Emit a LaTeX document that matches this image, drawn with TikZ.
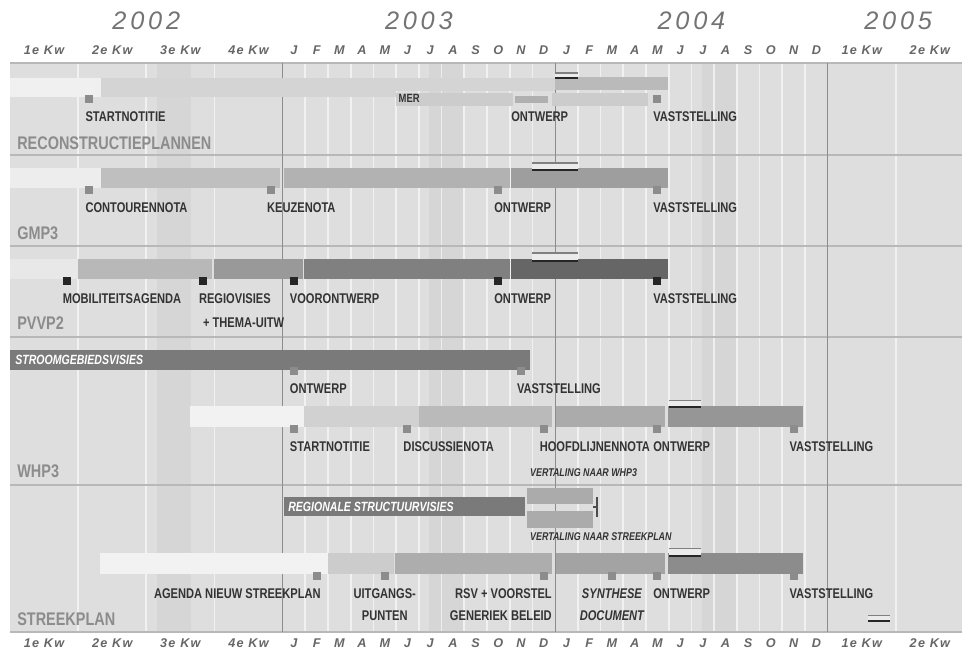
\documentclass[tikz,border=0pt]{standalone}
\usepackage{fontspec}
\setmainfont{Liberation Sans}
\newfontfamily\smal[FakeStretch=0.79]{Liberation Sans}
\newfontfamily\kopfont[LetterSpace=10]{Liberation Sans}
\newfontfamily\jaarfont[LetterSpace=15]{Liberation Sans}

\tikzset{
  balk/.style={fill=#1},
  mp/.style={fill=black!45, minimum size=0.2cm, inner sep=0pt},
  mpz/.style={fill=black!85, minimum size=0.2cm, inner sep=0pt},
  lbl/.style={font=\smal\bfseries\fontsize{10}{12}\selectfont, text=black!80, inner sep=0pt, anchor=base west},
  titel/.style={font=\smal\bfseries\fontsize{13}{15}\selectfont, text=black!45, inner sep=0pt, anchor=base west},
  vert/.style={font=\smal\bfseries\itshape\fontsize{8}{9}\selectfont, text=black!80, inner sep=0pt, anchor=base west},
  inbalk/.style={font=\smal\bfseries\itshape\fontsize{9.5}{11}\selectfont, text=white, inner sep=0pt, anchor=base west},
  kop/.style={font=\kopfont\bfseries\itshape\fontsize{9}{10}\selectfont, text=black!60, inner sep=0pt, anchor=base},
  jaar/.style={font=\jaarfont\itshape\fontsize{18}{20}\selectfont, text=black!55, inner sep=0pt, anchor=base},
}

% onderbreking: lichte lijn boven, donkere lijn onder
\newcommand\pauze[4]{%
  \fill[black!8] (#1,#3) rectangle (#2,#4);
  \draw[black!50, line width=0.03cm] (#1,#3) -- (#2,#3);
  \draw[black!85, line width=0.06cm] (#1,#4) -- (#2,#4);
}

\begin{document}
\begin{tikzpicture}[x=0.56785cm, y=-0.025cm]
\useasboundingbox (-0.4403,0) rectangle (42.133,656);

% raster
\fill[black!13] (0,63) rectangle (41.9,632);
\foreach \j in {0,12,24} \fill[black!16] (\j+6.45,63) rectangle (\j+7.95,632);
\foreach \m in {3,6,9,13,14,...,23,25,26,...,35,39}
  \draw[white, opacity=0.6, line width=0.04cm] (\m,63) -- (\m,632);
\foreach \y in {63,155,246,337,485,632}
  \draw[black!28, line width=0.05cm] (0,\y) -- (41.9,\y);
\foreach \m in {12,24,36}
  \draw[black!45, line width=0.025cm] (\m,63) -- (\m,632);

% koppen
\node[jaar] (j2002) at (6,30) {2002};
\node[jaar] (j2003) at (18,30) {2003};
\node[jaar] (j2004) at (30,30) {2004};
\node[jaar] (j2005) at (39.1,30) {2005};
\foreach \q [count=\i from 0] in {1e,2e,3e,4e} {
  \node[kop] (qa\i) at (1.5+3*\i,55) {\q\ Kw};
  \node[kop] (qb\i) at (1.5+3*\i,648) {\q\ Kw};
}
\foreach \q [count=\i from 0] in {1e,2e} {
  \node[kop] (qc\i) at (37.5+3*\i,55) {\q\ Kw};
  \node[kop] (qd\i) at (37.5+3*\i,648) {\q\ Kw};
}
\foreach \m [count=\i from 0] in {J,F,M,A,M,J,J,A,S,O,N,D} {
  \node[kop] (ma\i) at (12.5+\i,55) {\m};
  \node[kop] (mb\i) at (24.5+\i,55) {\m};
  \node[kop] (mc\i) at (12.5+\i,648) {\m};
  \node[kop] (md\i) at (24.5+\i,648) {\m};
}

% reconstructieplannen
\path[balk=black!6] (0,78) rectangle (4,97);
\path[balk=black!17] (4,78) rectangle (17,97);
\path[balk=black!17] (17,78) rectangle (24,91);
\path[balk=black!27] (24,77) rectangle (28.95,90);
\path[balk=black!20] (17,93) rectangle (22.15,106);
\path[balk=black!31] (22.25,96) rectangle (23.7,103);
\path[balk=black!20] (23.85,93) rectangle (28.1,106);
\node[vert, font=\smal\bfseries\fontsize{8.5}{9}\selectfont] (mer) at (17.1,103) {MER};
\pauze{24}{25}{73}{78}
\node[mp] (m1a) at (3.5,99) {};
\node[mp] (m1b) at (28.5,99) {};
\node[lbl] (l1a) at ([yshift=-0.575cm]m1a.west) {STARTNOTITIE};
\node[lbl] (l1o) at (22.06,122) {ONTWERP};
\node[lbl] (l1b) at ([yshift=-0.575cm]m1b.west) {VASTSTELLING};
\node[titel] (t1) at (0.31,150) {RECONSTRUCTIEPLANNEN};

% gmp3
\path[balk=black!7] (0,168) rectangle (4,188);
\path[balk=black!25] (4,168) rectangle (11.9,188);
\path[balk=black!30] (12.05,168) rectangle (22,188);
\path[balk=black!38] (22.05,168) rectangle (28.95,188);
\pauze{23}{25}{163}{170}
\node[mp] (m2a) at (3.5,190) {};
\node[mp] (m2b) at (11.5,190) {};
\node[mp] (m2c) at (21.5,190) {};
\node[mp] (m2d) at (28.5,190) {};
\node[lbl] (l2a) at ([yshift=-0.575cm]m2a.west) {CONTOURENNOTA};
\node[lbl] (l2b) at ([yshift=-0.575cm]m2b.west) {KEUZENOTA};
\node[lbl] (l2c) at ([yshift=-0.575cm]m2c.west) {ONTWERP};
\node[lbl] (l2d) at ([yshift=-0.575cm]m2d.west) {VASTSTELLING};
\node[titel] (t2) at (0.31,240) {GMP3};

% pvvp2
\path[balk=black!9] (0,259) rectangle (3,279);
\path[balk=black!28] (3,259) rectangle (8.9,279);
\path[balk=black!40] (9,259) rectangle (12.9,279);
\path[balk=black!50] (12.95,259) rectangle (22,279);
\path[balk=black!60] (22.05,259) rectangle (28.95,279);
\pauze{23}{25}{253}{261}
\node[mpz] (m3a) at (2.5,281) {};
\node[mpz] (m3b) at (8.5,281) {};
\node[mpz] (m3c) at (12.5,281) {};
\node[mpz] (m3d) at (21.5,281) {};
\node[mpz] (m3e) at (28.5,281) {};
\node[lbl] (l3a) at ([yshift=-0.575cm]m3a.west) {MOBILITEITSAGENDA};
\node[lbl] (l3b) at ([yshift=-0.575cm]m3b.west) {REGIOVISIES};
\node[lbl] (l3b2) at ([shift={(0.1cm,-0.6cm)}]l3b.base west) {+ THEMA-UITW};
\node[lbl] (l3c) at ([yshift=-0.575cm]m3c.west) {VOORONTWERP};
\node[lbl] (l3d) at ([yshift=-0.575cm]m3d.west) {ONTWERP};
\node[lbl] (l3e) at ([yshift=-0.575cm]m3e.west) {VASTSTELLING};
\node[titel] (t3) at (0.31,330) {PVVP2};

% whp3
\path[balk=black!52] (0,350) rectangle (22.9,370);
\node[inbalk] (sgv) at (0.22,365) {STROOMGEBIEDSVISIES};
\node[mp] (m4a) at (12.5,371) {};
\node[mp] (m4b) at (22.5,371) {};
\node[lbl] (l4a) at ([yshift=-0.575cm]m4a.west) {ONTWERP};
\node[lbl] (l4b) at ([yshift=-0.575cm]m4b.west) {VASTSTELLING};
\path[balk=black!5] (7.92,406) rectangle (12.95,427);
\path[balk=black!18] (12.95,406) rectangle (18,427);
\path[balk=black!27] (18,406) rectangle (23.86,427);
\path[balk=black!33] (24.04,406) rectangle (28.84,427);
\path[balk=black!41] (28.97,406) rectangle (34.91,427);
\pauze{29}{30.4}{401}{407}
\node[mp] (m4c) at (12.5,429) {};
\node[mp] (m4d) at (17.5,429) {};
\node[mp] (m4e) at (23.5,429) {};
\node[mp] (m4f) at (28.5,429) {};
\node[mp] (m4g) at (34.5,429) {};
\node[lbl] (l4c) at ([yshift=-0.575cm]m4c.west) {STARTNOTITIE};
\node[lbl] (l4d) at ([yshift=-0.575cm]m4d.west) {DISCUSSIENOTA};
\node[lbl] (l4e) at ([yshift=-0.575cm]m4e.west) {HOOFDLIJNENNOTA};
\node[lbl] (l4f) at ([yshift=-0.575cm]m4f.west) {ONTWERP};
\node[lbl] (l4g) at ([yshift=-0.575cm]m4g.west) {VASTSTELLING};
\node[vert] (vw) at (22.89,477) {VERTALING NAAR WHP3};
\node[titel] (t4) at (0.31,478) {WHP3};

% streekplan
\path[balk=black!52] (12.05,497) rectangle (22.67,516);
\node[inbalk] (rsv) at (12.24,512) {REGIONALE STRUCTUURVISIES};
\path[balk=black!33] (22.75,488) rectangle (25.67,504);
\path[balk=black!33] (22.75,511) rectangle (25.67,528);
\coordinate (spl) at (25.67,507);
\coordinate (brk) at (25.85,507);
\draw[black!70, line width=0.05cm] (spl) -- (brk);
\draw[black!70, line width=0.05cm] (25.85,497) -- (25.85,517);
\node[vert] (vs) at (22.89,541) {VERTALING NAAR STREEKPLAN};
\path[balk=black!5] (3.96,553) rectangle (14,574);
\path[balk=black!20] (14,553) rectangle (16.9,574);
\path[balk=black!32] (16.95,553) rectangle (23.86,574);
\path[balk=black!36] (24.04,553) rectangle (28.84,574);
\path[balk=black!45] (28.97,553) rectangle (34.91,574);
\pauze{29}{30.4}{549}{556}
\node[mp] (m5a) at (13.5,576) {};
\node[mp] (m5b) at (16.5,576) {};
\node[mp] (m5c) at (23.5,576) {};
\node[mp] (m5d) at (26.5,576) {};
\node[mp] (m5e) at (28.5,576) {};
\node[mp] (m5f) at (34.5,576) {};
\node[lbl, anchor=base east] (l5a) at ([yshift=-0.575cm]m5a.east) {AGENDA NIEUW STREEKPLAN};
\node[lbl, anchor=base] (l5b) at ([yshift=-0.575cm]m5b.center) {UITGANGS-};
\node[lbl, anchor=base] (l5b2) at ([yshift=-0.55cm]l5b.base) {PUNTEN};
\node[lbl, anchor=base east] (l5c) at ([shift={(0.1cm,-0.575cm)}]m5c.east) {RSV + VOORSTEL};
\node[lbl, anchor=base east] (l5c2) at ([yshift=-0.55cm]l5c.base east) {GENERIEK BELEID};
\node[lbl, anchor=base, font=\smal\bfseries\itshape\fontsize{10}{12}\selectfont] (l5d) at ([yshift=-0.575cm]m5d.center) {SYNTHESE};
\node[lbl, anchor=base, font=\smal\bfseries\itshape\fontsize{10}{12}\selectfont] (l5d2) at ([yshift=-0.55cm]l5d.base) {DOCUMENT};
\node[lbl] (l5e) at ([yshift=-0.575cm]m5e.west) {ONTWERP};
\node[lbl] (l5f) at ([yshift=-0.575cm]m5f.west) {VASTSTELLING};
\node[titel] (t5) at (0.31,626) {STREEKPLAN};
\pauze{37.77}{38.74}{616}{621}
\end{tikzpicture}
\end{document}
